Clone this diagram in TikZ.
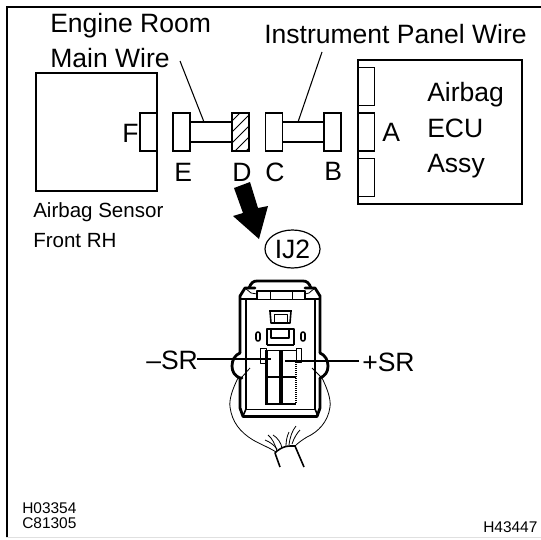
\documentclass[tikz,border=0pt]{standalone}
\usepackage{fontspec}
\usetikzlibrary{shapes.geometric}
\setmainfont{Liberation Sans}
\begin{document}
\begin{tikzpicture}[x=0.75pt,y=-0.75pt,
  line join=miter,
  lbl/.style={inner sep=0pt,anchor=base west,font=\fontsize{19.9pt}{22pt}\selectfont},
  mid/.style={inner sep=0pt,anchor=base west,font=\fontsize{15.4pt}{18pt}\selectfont},
  tiny/.style={inner sep=0pt,anchor=base west,font=\fontsize{11.6pt}{13pt}\selectfont},
  unitbox/.style={draw,line width=1.1pt,fill=white,inner sep=0pt,minimum width=91pt,minimum height=88.5pt},
  plug/.style={draw,line width=1.1pt,fill=white,inner sep=0pt,minimum width=12.75pt,minimum height=28.5pt},
  wire/.style={draw,line width=1.1pt,inner sep=0pt,minimum width=31.5pt,minimum height=15pt},
  leader/.style={line width=0.8pt},
  thickb/.style={line width=2.1pt,line cap=round,line join=round},
  medb/.style={line width=1.2pt,line join=round},
  thinb/.style={line width=0.6pt,line join=round}]
\useasboundingbox (0,0) rectangle (541,539);
% frame
\draw[black!12,line width=0.7pt] (6,537.5) -- (541,537.5);
\draw[line width=1.6pt] (541,7) -- (7,7) -- (7,537);
% left unit
\node[unitbox] (sensor) at (96.5,132) {};
\node[plug] (F) at (148.5,132) {};
% harness 1
\node[wire] (w1) at (211,132) {};
\node[plug] (E) at (181.5,132) {};
\node[plug] (D) at (240.5,132) {};
\begin{scope}
\clip (D.south west) rectangle (D.north east);
\foreach \k in {0,1,2,3,4}
  \draw[line width=0.6pt] (232,{121+\k*11}) -- (250,{121+\k*11-18});
\end{scope}
\draw[line width=1.1pt] (D.south west) rectangle (D.north east);
% harness 2
\node[wire] (w2) at (303.5,132) {};
\node[plug] (C) at (274,132) {};
\node[plug] (B) at (332.5,132) {};
% right unit
\draw[line width=1.1pt] (358,60) rectangle (522,204);
\node[plug] (A1) at (366,86.5) {};
\node[plug] (A2) at (366,132) {};
\node[plug] (A3) at (366,177.5) {};
\draw[line width=1.1pt] (358,60) -- (358,204);
% leaders
\coordinate (l1) at (180,61);
\coordinate (l2) at (322,52);
\draw[leader] (l1) -- (204,122);
\draw[leader] (l2) -- (298,122);
% labels
\node[lbl] (t1) at (50,32) {Engine Room};
\node[lbl] (t2) at (50,67) {Main Wire};
\node[lbl] (t3) at (264,43) {Instrument Panel Wire};
\node[lbl] (tF) at (122,142) {F};
\node[lbl] (tE) at (174,181) {E};
\node[lbl] (tD) at (232,181) {D};
\node[lbl] (tC) at (265,181) {C};
\node[lbl] (tB) at (324,180) {B};
\node[lbl] (tA) at (382,141) {A};
\node[lbl] (t4) at (427,101) {Airbag};
\node[lbl] (t5) at (427,137) {ECU};
\node[lbl] (t6) at (427,172) {Assy};
\node[mid] (t7) at (33,217) {Airbag Sensor};
\node[mid] (t8) at (33,247) {Front RH};
% arrow
\fill (234,188) -- (250,182) -- (258,208) -- (268,206) -- (259,239) -- (233,216) -- (243,213) -- cycle;
% IJ2
\node[draw,ellipse,line width=0.9pt,minimum width=41.25pt,minimum height=28.5pt,inner sep=0pt,font=\fontsize{19.9pt}{22pt}\selectfont] (ij) at (292.5,249) {IJ2};
% connector body
\draw[thickb] (242,378) -- (240,378) -- (240,408) -- (243,416.5) -- (317,416.5) -- (320,408) -- (320,378);
\draw[thickb] (240,353) -- (240,296) -- (245,288) -- (255,288);
\draw[thickb] (320,353) -- (320,296) -- (315,288) -- (305,288);
\draw[thickb] (249,288) .. controls (251,283) and (253,281) .. (257,281) -- (303,281) .. controls (307,281) and (309,283) .. (311,288);
\draw[medb] (246,299) -- (246,409) -- (243,416);
\draw[medb] (315,299) -- (315,409) -- (318,416);
\draw[thinb] (246,409) -- (315,409);
\draw[medb] (241,299) -- (257,299) -- (257,291) -- (305,291) -- (305,299) -- (320,299);
\draw[thinb] (245,288) -- (251,293) -- (257,294) (315,288) -- (309,293) -- (305,294);
\draw[thinb] (270,291) -- (270,299) (292,291) -- (292,299);
\draw[thinb] (257,299) -- (305,299);
% window
\draw[medb] (269,311) -- (292,311);
\draw[medb] (270,311) -- (271,323) -- (290,323) -- (291,311);
\draw[thinb] (274,314) rectangle (287,323);
% latch
\draw[medb] (267,345) -- (267,329) -- (294,329) -- (294,345);
\draw[medb] (271,330) -- (271,338) -- (289,338) -- (289,330);
\draw[medb] (267,345) -- (294,345);
% pills
\draw[medb,rounded corners=1.5pt] (256,332) rectangle (260,341);
\draw[medb,rounded corners=1.5pt] (301,332) rectangle (305,341);
% tabs
\draw[thinb,fill=white] (260,348) rectangle (266,363);
\draw[thinb,fill=white] (296,348) rectangle (301,362);
% terminals
\draw[thinb] (266,350) -- (296,350);
\draw[line width=2.2pt] (266.5,350) -- (266.5,404) -- (296,404);
\draw[line width=2.6pt] (281,350) -- (281,404);
\draw[line width=2.2pt] (266,377) -- (296,377);
\draw[line width=1.5pt,dash pattern=on 1pt off 0.5pt] (296,362) -- (296,404);
% side bulges
\draw[thickb] (240,353) .. controls (235,355) and (232,360) .. (232,366) .. controls (232,372) and (235,376) .. (240,378);
\draw[thickb] (320,353) .. controls (325,355) and (328,360) .. (328,366) .. controls (328,372) and (325,376) .. (320,378);
\draw[thinb] (250,368) -- (242,377);
\draw[thinb] (312,368) -- (322,378);
% wrap
\draw[line width=0.6pt] (238,378) .. controls (232,390) and (229,400) .. (230,407) .. controls (232,422) and (240,432) .. (253,440) .. controls (262,445) and (270,448) .. (276,452);
\draw[line width=0.6pt] (322,378) .. controls (328,390) and (331,400) .. (330,407) .. controls (328,422) and (318,432) .. (307,437) .. controls (302,440) and (298,443) .. (295,446);
% cable
\draw[medb] (280,467) -- (275,453) -- (277,451) .. controls (281,448) and (285,446) .. (290,446) -- (295,446) -- (304,467);
\draw[thinb] (277,451) .. controls (275,444) and (272,438) .. (268,435);
\draw[thinb] (277,449) .. controls (274,445) and (270,442) .. (265,440);
\draw[thinb] (282,448) .. controls (281,443) and (278,438) .. (273,435);
\draw[thinb] (286,446) .. controls (286,441) and (287,436) .. (289,432);
\draw[thinb] (289,445) .. controls (290,437) and (292,431) .. (296,426);
\draw[thinb] (292,444) .. controls (294,438) and (297,433) .. (300,430);
% SR leaders
\coordinate (sl) at (197,359);
\coordinate (sr) at (359,361);
\draw[leader] (sl) -- (271,359);
\draw[leader] (sr) -- (285,361);
\node[lbl] (mSR) at (146,369) {–SR};
\node[lbl] (pSR) at (362,371) {+SR};
% codes
\node[tiny] (c1) at (22,513) {H03354};
\node[tiny] (c2) at (22,528) {C81305};
\node[tiny] (c3) at (483,532) {H43447};
\end{tikzpicture}
\end{document}
